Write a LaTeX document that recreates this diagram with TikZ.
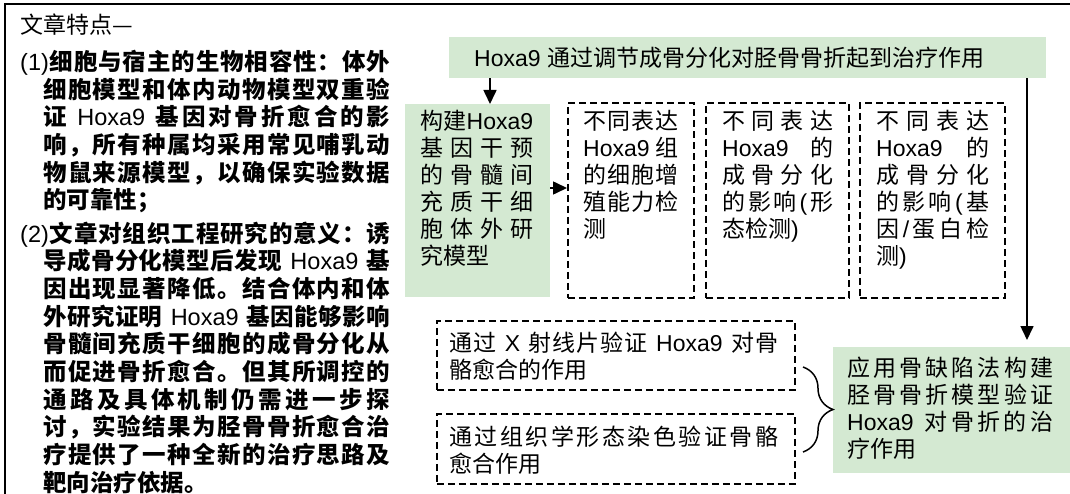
\documentclass[tikz,border=0pt]{standalone}
\usepackage{fontspec}
\setmainfont{Noto Sans CJK SC}
\newfontfamily\lat{Liberation Sans}
\usetikzlibrary{arrows.meta,decorations.pathreplacing}
\definecolor{lgreen}{RGB}{212,233,210}
\makeatletter
\def\sprEnd{\sprEnd@}
\def\spr#1{\spr@a#1\sprEnd}
\def\spr@a#1{#1\spr@b}
\def\spr@b#1{\ifx\sprEnd#1\else\hfil#1\expandafter\spr@b\fi}
\makeatother
\newcommand\JL[2]{\makebox[#1][s]{\spr{#2}}}
\newcommand\hx{\mbox{\lat\mdseries Hoxa9}}
\newcommand\hxs{\mbox{\lat\mdseries\ Hoxa9\ }}
\newcommand\hxr{\mbox{\lat\mdseries Hoxa9\ }}
\newcommand\xs{\mbox{\lat\mdseries\ X\ }}
\newcommand\lpar{\mbox{\lat\mdseries(}}
\newcommand\rpar{\mbox{\lat\mdseries)}}
\newcommand\slsh{\mbox{\lat\mdseries/}}
\newcommand\numa{\mbox{\lat\mdseries(1)}}
\newcommand\numb{\mbox{\lat\mdseries(2)}}
\newcommand\rtfont{\fontsize{23}{27}\selectfont}
\newcommand\ltfont{\fontsize{23.5}{27.65}\selectfont\bfseries}
\begin{document}
\begin{tikzpicture}[x=1pt,y=-1pt,
  gbox/.style={fill=lgreen,draw=none,inner sep=0pt,anchor=north west},
  dbox/.style={draw,line width=1.6pt,dash pattern=on 7pt off 4pt,inner sep=0pt,anchor=north west},
  txt/.style={anchor=base west,inner sep=0pt,align=left,font=\rtfont},
  ltxt/.style={anchor=base west,inner sep=0pt,align=left,font=\ltfont,text width=370pt},
  arr/.style={-{Triangle[width=13pt,length=14pt]},line width=1.6pt},
  brc/.style={line width=1.5pt,decorate,decoration={brace,amplitude=30pt}}]
\useasboundingbox (0,0) rectangle (1070,494);
% frame
\draw[line width=1.5pt] (5,494) -- (5,4) -- (1070,4);
% left column
\node[txt] (title) at (20,33.7) {文章特点—};
\node[ltxt] (item1) at (20,70.6) {%
\JL{370pt}{\numa 细胞与宿主的生物相容性：体外}\\
\hspace*{23pt}\JL{347pt}{细胞模型和体内动物模型双重验}\\
\hspace*{23pt}\JL{347pt}{证\hxs 基因对骨折愈合的影}\\
\hspace*{23pt}\JL{347pt}{响，所有种属均采用常见哺乳动}\\
\hspace*{23pt}\JL{347pt}{物鼠来源模型，以确保实验数据}\\
\hspace*{23pt}的可靠性；};
\node[ltxt] (item2) at (20,242.2) {%
\JL{370pt}{\numb 文章对组织工程研究的意义：诱}\\
\hspace*{23pt}\JL{347pt}{导成骨分化模型后发现\hxs 基}\\
\hspace*{23pt}\JL{347pt}{因出现显著降低。结合体内和体}\\
\hspace*{23pt}\JL{347pt}{外研究证明\hxs 基因能够影响}\\
\hspace*{23pt}\JL{347pt}{骨髓间充质干细胞的成骨分化从}\\
\hspace*{23pt}\JL{347pt}{而促进骨折愈合。但其所调控的}\\
\hspace*{23pt}\JL{347pt}{通路及具体机制仍需进一步探}\\
\hspace*{23pt}\JL{347pt}{讨，实验结果为胫骨骨折愈合治}\\
\hspace*{23pt}\JL{347pt}{疗提供了一种全新的治疗思路及}\\
\hspace*{23pt}靶向治疗依据。};
% boxes
\node[gbox,minimum width=597pt,minimum height=41pt] (top) at (449,37) {};
\node[gbox,minimum width=145pt,minimum height=193pt] (lg) at (405,104) {};
\node[gbox,minimum width=237pt,minimum height=126pt] (bg) at (833,347) {};
\node[dbox,minimum width=126pt,minimum height=195pt] (b1) at (567,102) {};
\node[dbox,minimum width=143pt,minimum height=195pt] (b2) at (705,102) {};
\node[dbox,minimum width=145pt,minimum height=195pt] (b3) at (859,102) {};
\node[dbox,minimum width=358pt,minimum height=69pt] (bA) at (436,320) {};
\node[dbox,minimum width=358pt,minimum height=70pt] (bB) at (436,413) {};
% texts
\node[txt] (topt) at (474,66.7) {\mbox{\lat Hoxa9\ }通过调节成骨分化对胫骨骨折起到治疗作用};
\node[txt,text width=113pt] (lgt) at (420,129.7) {%
\JL{113pt}{构建\hx}\\
\JL{113pt}{基因干预}\\
\JL{113pt}{的骨髓间}\\
\JL{113pt}{充质干细}\\
\JL{113pt}{胞体外研}\\
究模型};
\node[txt,text width=95pt] (b1t) at (583,129.7) {%
\JL{95pt}{不同表达}\\
\JL{95pt}{\hx 组}\\
\JL{95pt}{的细胞增}\\
\JL{95pt}{殖能力检}\\
测};
\node[txt,text width=111pt] (b2t) at (722,129.7) {%
\JL{111pt}{不同表达}\\
\JL{111pt}{\hx 的}\\
\JL{111pt}{成骨分化}\\
\JL{111pt}{的影响\lpar 形}\\
态检测\rpar};
\node[txt,text width=113pt] (b3t) at (876,129.7) {%
\JL{113pt}{不同表达}\\
\JL{113pt}{\hx 的}\\
\JL{113pt}{成骨分化}\\
\JL{113pt}{的影响\lpar 基}\\
\JL{113pt}{因\slsh 蛋白检}\\
测\rpar};
\node[txt,text width=329pt] (bAt) at (449,351.7) {%
\JL{329pt}{通过\xs 射线片验证\hxs 对骨}\\
骼愈合的作用};
\node[txt,text width=329pt] (bBt) at (449,445.7) {%
\JL{329pt}{通过组织学形态染色验证骨骼}\\
愈合作用};
\node[txt,text width=206pt] (bgt) at (847,376.7) {%
\JL{206pt}{应用骨缺陷法构建}\\
\JL{206pt}{胫骨骨折模型验证}\\
\JL{206pt}{\hxr 对骨折的治}\\
疗作用};
% connectors
\coordinate (xa) at (490,0);
\coordinate (ya) at (0,188);
\coordinate (xr) at (1027,0);
\coordinate (brT) at (803,367);
\coordinate (brB) at (803,452);
\draw[arr] (top.south -| xa) -- (lg.north -| xa);
\draw[arr] (lg.east |- ya) -- (b1.west |- ya);
\draw[arr,shorten >=7pt] (top.south -| xr) -- (bg.north -| xr);
\draw[brc] (brT) -- (brB);
\end{tikzpicture}
\end{document}
